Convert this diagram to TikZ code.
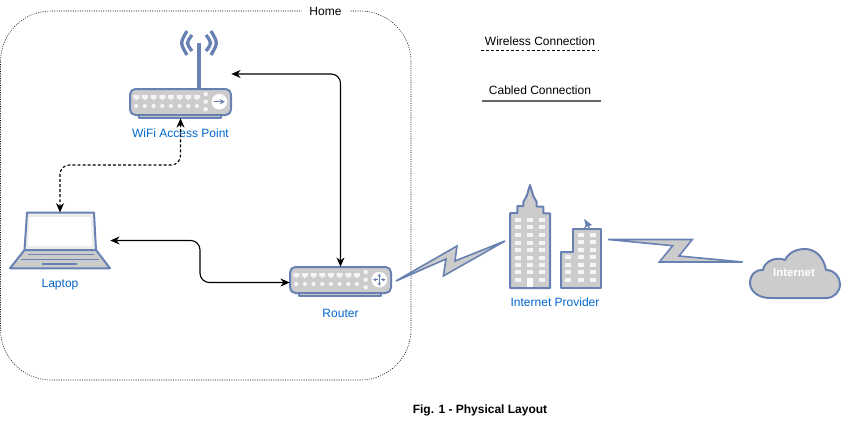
\documentclass[tikz,border=0pt]{standalone}
\usepackage{fontspec}
\setmainfont{Liberation Sans}
\usetikzlibrary{positioning,arrows.meta}
\definecolor{iconblue}{HTML}{6881B3}
\definecolor{icongray}{HTML}{CCCCCC}
\definecolor{labelblue}{HTML}{0066CC}
\tikzset{
lbl/.style={text=labelblue,inner sep=0,font=\fontsize{9}{11}\selectfont},
txt/.style={inner sep=0,font=\fontsize{9}{11}\selectfont},
icon/.style={draw=iconblue,fill=icongray,line width=1.5pt,line join=round},
spot/.style={inner sep=0,minimum height=#1},
link/.style={{Stealth[length=7pt,width=6pt]}-{Stealth[length=7pt,width=6pt]},line width=.85pt,rounded corners=7pt}
}
\begin{document}
\begin{tikzpicture}[x=.75pt,y=-.75pt]
\newcommand{\Base}{\draw[icon](9,26)rectangle(91,29);
\draw[icon,rounded corners=4pt](0,0)rectangle(101,26);
\foreach\i in{0,...,7}{\fill[white!92!gray](3.3+8.67*\i,6)rectangle++(6,3.5)(5.3+8.67*\i,9.5)rectangle++(2,1.5);
\fill[white!92!gray](6.2+8.67*\i,17)circle(2.1);}
\foreach\i in{5,12.7,20.3}{\fill[white!92!gray](75.7,\i)circle(2.2);}
\fill[white](89.3,12.7)circle(7.8);}
\useasboundingbox(0,0)rectangle(842,421);
\draw[dash pattern=on .75pt off 1pt,rounded corners=38pt](.5,11)rectangle(411,380);
\node[txt,fill=white,minimum width=36pt,minimum height=10pt](home)at(325.5,11){Home};
\node[txt](wireless)at(540,41){Wireless Connection};
\node[txt](cabled)at(540,90.5){Cabled Connection};
\coordinate(wirelessL)at(481,50);
\coordinate(wirelessR)at(598,50);
\coordinate(cabledL)at(482,100.5);
\coordinate(cabledR)at(601,100.5);
\draw[dash pattern=on 2.2pt off 1.6pt,line width=.75pt](wirelessL)--(wirelessR);
\draw[draw=black!60,line width=1.5pt](cabledL)--(cabledR);
% access point
\begin{scope}[shift={(130,89)}]
\draw[iconblue,line width=2.5pt](69,0)--(69,-46);
\draw[iconblue,line width=2.5pt](57,-58).. controls(50,-46)..(57,-34)(81,-58).. controls(88,-46)..(81,-34);
\draw[iconblue,line width=2.5pt](62,-54).. controls(56,-46)..(62,-38)(76,-54).. controls(82,-46)..(76,-38);
\Base
\draw[iconblue,line width=1pt,-{Stealth[length=4pt,width=4pt]}](84,12.7)--(95,12.7);
\end{scope}
% router
\begin{scope}[shift={(290,267)}]
\Base
\draw[iconblue,line width=.5pt,{Stealth[length=2.5pt,width=2.5pt]}-{Stealth[length=2.5pt,width=2.5pt]}](89.3,6.5)--(89.3,19);
\draw[iconblue,line width=.5pt,-{Stealth[length=2.5pt,width=2.5pt]}](87.5,12.7)--(83,12.7);
\draw[iconblue,line width=.5pt,-{Stealth[length=2.5pt,width=2.5pt]}](91.1,12.7)--(95.6,12.7);
\end{scope}
% laptop
\draw[icon,fill=white!85!gray](27,212.7)--(94,212.7)--(96,250)--(24.5,250)--cycle;
\fill[white](29.5,217)--(91,217)--(92,246)--(28,246)--cycle;
\draw[icon](24.5,250)--(96,250)--(110,268.3)--(10,268.3)--cycle;
\draw[iconblue,line width=1pt](27.7,254.7)--(94.3,254.7)(20.7,259.7)--(99,259.7);
\draw[iconblue,line width=1.5pt](42,264)--(77,264);
% provider
\draw[icon](510,288)--(510,213)--(517.3,213)--(517.3,206)--(523.3,206)--(523.3,202)--(526.7,196)--(530,185)--(533.3,196)--(536.7,202)--(536.7,206.7)--(543.3,206.7)--(543.3,213.3)--(550,213.3)--(550,288)--cycle;
\draw[icon](560.7,288)--(560.7,251.7)--(573.3,251.7)--(573.3,229)--(600.7,229)--(600.7,288)--cycle;
\fill[iconblue](584,219)--(592,225)--(586,227)--cycle;
\draw[iconblue,line width=.8pt](587,224)--(584,229)(587,224)--(590,229);
\foreach\x in{517.7,530,542.3}{\foreach\y in{220,227.3,235,242.7,250,257.7,265,272.3,280}{\fill[white!92!gray](\x-3,\y-2)rectangle++(6,4);}}
\fill[white](527,278)rectangle(533,287);
\foreach\x in{580.7,593}{\foreach\y in{235,242.3,250}{\fill[white!92!gray](\x-3,\y-2)rectangle++(6,4);}}
\foreach\x in{568.3,580.7,593}{\foreach\y in{257.3,265,272.3,280}{\fill[white!92!gray](\x-3,\y-2)rectangle++(6,4);}}
% bolts
\draw[icon,line width=1.2pt,line join=miter](396,281)--(457,246)--(455,261)--(505,241)--(443.3,276)--(446,259)--cycle;
\draw[icon,line width=1.2pt,line join=miter](608,239.5)--(692.3,239.5)--(679,256)--(742.7,262)--(659.3,262)--(672.7,245.7)--cycle;
% cloud
\draw[icon](770,298).. controls(757,298)and(750,290)..(750,283).. controls(750,274)and(757,269)..(763,270).. controls(764,262)and(775,256)..(785,260).. controls(789,252)and(797,249)..(805,249).. controls(816,249)and(824,258)..(826,270).. controls(835,270)and(840,278)..(840,284).. controls(840,292)and(834,298)..(826,298)--cycle;
% spots for the links
\node[spot=88*.75pt,minimum width=101*.75pt](ap)at(180.5,74){};
\node[spot=55.6*.75pt,minimum width=100*.75pt](laptop)at(60,240.5){};
\node[spot=31*.75pt,minimum width=101*.75pt](router)at(340.5,282.5){};
\node[minimum size=0,inner sep=0](provider)at(555,289){};
\node[lbl,below=8pt of ap.south](aplabel){WiFi Access Point};
\node[lbl,below=8pt of laptop.south](laptoplabel){Laptop};
\node[lbl,below=8pt of router.south](routerlabel){Router};
\node[lbl,below=6pt of provider](providerlabel){Internet Provider};
\node[txt,text=white,font=\fontsize{8.5}{11}\selectfont\bfseries](internet)at(794,273){Internet};
\coordinate(wifibend)at(120,165);
\coordinate(cablebend)at(200,260);
\draw[link](ap.east)-|(router.north);
\draw[link](laptop.east)-|(cablebend)|-(router.west);
\draw[link,dash pattern=on 2.2pt off 1.6pt,{Stealth[length=7pt,width=6pt]}-{Stealth[length=7pt,width=6pt]}](ap.south)|-(wifibend)-|(laptop.north);
\node[txt,font=\fontsize{9}{11}\selectfont\bfseries](caption)at(480,410){Fig. 1 - Physical Layout};
\end{tikzpicture}
\end{document}
